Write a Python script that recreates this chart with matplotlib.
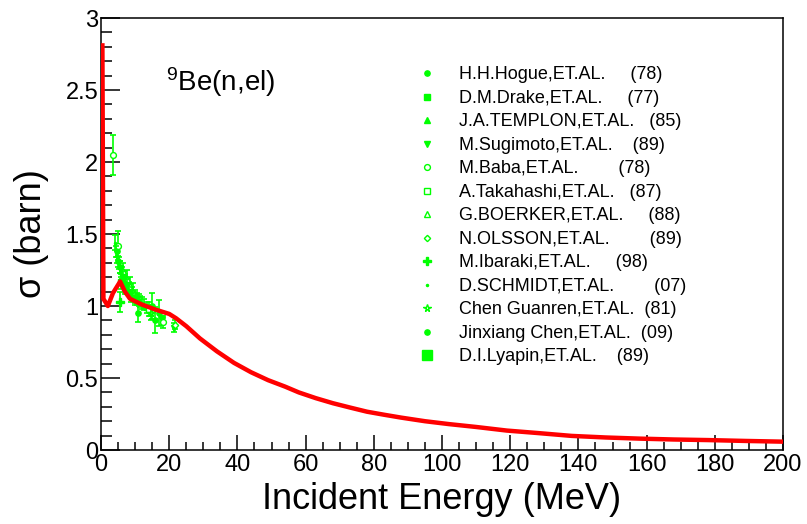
import matplotlib
matplotlib.use("Agg")
import matplotlib.pyplot as plt
from matplotlib.ticker import MultipleLocator

plt.rcParams['font.family'] = ['Liberation Sans', 'DejaVu Sans']
plt.rcParams['mathtext.default'] = 'regular'

# evaluated elastic cross section (red curve)
eval_e = [0.4, 0.7, 2.0, 3.5, 5.6, 7.0, 8.5, 12.0, 16.0, 20.0, 22.0, 25.0, 29.0, 34.0,
          39.0, 44.0, 49.0, 54.0, 58.0, 63.0, 68.0, 73.0, 78.0, 83.0, 88.0, 95.0, 102.0,
          110.0, 119.0, 128.0, 138.0, 148.0, 158.0, 168.0, 178.0, 189.0, 200.0]
eval_sig = [2.81, 1.05, 1.00, 1.09, 1.17, 1.10, 1.05, 1.01, 0.975, 0.945, 0.915, 0.86, 0.775, 0.685,
            0.605, 0.54, 0.485, 0.44, 0.40, 0.36, 0.325, 0.295, 0.266, 0.245, 0.225, 0.20, 0.18,
            0.16, 0.135, 0.118, 0.098, 0.087, 0.079, 0.073, 0.069, 0.063, 0.058]

# measurements
hogue_e = [4.6, 5.1, 5.6, 6.1, 6.6, 7.1, 7.6, 8.1, 8.6]
hogue_sig = [1.38, 1.31, 1.27, 1.23, 1.20, 1.18, 1.15, 1.13, 1.11]
hogue_err = [0.04, 0.04, 0.04, 0.04, 0.04, 0.04, 0.04, 0.04, 0.04]

drake_e = [5.9, 7.0, 8.9, 10.0]
drake_sig = [1.17, 1.13, 1.08, 1.06]
drake_err = [0.05, 0.05, 0.05, 0.05]

templon_e = [10.5, 11.5, 12.5, 13.5, 14.5]
templon_sig = [1.05, 1.03, 1.01, 0.99, 0.97]
templon_err = [0.04, 0.04, 0.04, 0.04, 0.04]

sugimoto_e = [18.0, 21.5]
sugimoto_sig = [0.90, 0.85]
sugimoto_err = [0.03, 0.03]

baba_e = [3.5, 5.0, 18.3]
baba_sig = [2.05, 1.42, 0.89]
baba_err = [0.14, 0.10, 0.04]

takahashi_e = [14.1]
takahashi_sig = [0.98]
takahashi_err = [0.05]

boerker_e = [6.5, 7.5, 8.5, 9.5]
boerker_sig = [1.24, 1.19, 1.14, 1.10]
boerker_err = [0.06, 0.06, 0.06, 0.06]

olsson_e = [21.6]
olsson_sig = [0.87]
olsson_err = [0.03]

ibaraki_e = [5.7]
ibaraki_sig = [1.03]
ibaraki_err = [0.07]

schmidt_e = [4.2, 4.5, 4.8, 5.2, 5.5, 6.0, 6.5, 7.0, 7.5, 8.0, 9.0, 10.0, 11.0, 12.0]
schmidt_sig = [1.44, 1.38, 1.34, 1.30, 1.27, 1.24, 1.20, 1.17, 1.15, 1.12, 1.09, 1.06, 1.04, 1.02]
schmidt_err = [0.05, 0.04, 0.04, 0.04, 0.04, 0.04, 0.04, 0.04, 0.04, 0.04, 0.04, 0.04, 0.04, 0.04]

guanren_e = [14.6]
guanren_sig = [0.95]
guanren_err = [0.05]

jchen_e = [10.9, 15.0, 15.7, 17.0]
jchen_sig = [0.95, 1.00, 0.90, 0.95]
jchen_err = [0.06, 0.09, 0.09, 0.09]

lyapin_e = []
lyapin_sig = []
lyapin_err = []

labels = ["H.H.Hogue,ET.AL.     (78)",
          "D.M.Drake,ET.AL.     (77)",
          "J.A.TEMPLON,ET.AL.   (85)",
          "M.Sugimoto,ET.AL.    (89)",
          "M.Baba,ET.AL.        (78)",
          "A.Takahashi,ET.AL.   (87)",
          "G.BOERKER,ET.AL.     (88)",
          "N.OLSSON,ET.AL.        (89)",
          "M.Ibaraki,ET.AL.     (98)",
          "D.SCHMIDT,ET.AL.        (07)",
          "Chen Guanren,ET.AL.  (81)",
          "Jinxiang Chen,ET.AL.  (09)",
          "D.I.Lyapin,ET.AL.    (89)"]

sets = [(hogue_e, hogue_sig, hogue_err),
        (drake_e, drake_sig, drake_err),
        (templon_e, templon_sig, templon_err),
        (sugimoto_e, sugimoto_sig, sugimoto_err),
        (baba_e, baba_sig, baba_err),
        (takahashi_e, takahashi_sig, takahashi_err),
        (boerker_e, boerker_sig, boerker_err),
        (olsson_e, olsson_sig, olsson_err),
        (ibaraki_e, ibaraki_sig, ibaraki_err),
        (schmidt_e, schmidt_sig, schmidt_err),
        (guanren_e, guanren_sig, guanren_err),
        (jchen_e, jchen_sig, jchen_err),
        (lyapin_e, lyapin_sig, lyapin_err)]

# marker, size, filled
styles = [('o', 3.8, True), ('s', 4.8, True), ('^', 4.0, True), ('v', 4.0, True),
          ('o', 4.2, False), ('s', 4.5, False), ('^', 4.5, False), ('D', 3.2, False),
          ('P', 5.5, True), ('.', 3.0, True), ('*', 5.5, False), ('o', 3.8, True),
          ('s', 7.5, True)]

green = '#00ff00'

fig = plt.figure(figsize=(8.07, 5.24), dpi=100)
ax = fig.add_axes([0.1252, 0.1412, 0.8451, 0.8244])

ax.plot(eval_e, eval_sig, color='red', lw=3.2, zorder=3)

handles = []
for (e, s, err), (mk, ms, filled), lab in zip(sets, styles, labels):
    if e:
        ax.errorbar(e, s, yerr=err, fmt='none', ecolor=green, elinewidth=1.2,
                    capsize=2.5, capthick=1.2, zorder=2)
    h, = ax.plot(e, s, linestyle='none', marker=mk, ms=ms, color=green,
                 mfc=green if filled else 'white', mec=green, mew=1.0, label=lab, zorder=2)
    handles.append(h)

ax.legend(handles=handles, loc='upper left', bbox_to_anchor=(0.468, 0.888),
          frameon=False, fontsize=13, handlelength=0.8, handletextpad=1.35,
          labelspacing=0.36, borderpad=0, borderaxespad=0)

ax.text(0.095, 0.831, '$^{9}$Be(n,el)', transform=ax.transAxes, fontsize=20,
        ha='left', va='baseline')

ax.set_xlim(0, 200)
ax.set_ylim(0, 3)
ax.xaxis.set_major_locator(MultipleLocator(20))
ax.xaxis.set_minor_locator(MultipleLocator(5))
ax.yaxis.set_major_locator(MultipleLocator(0.5))
ax.yaxis.set_minor_locator(MultipleLocator(0.1))
ax.yaxis.set_major_formatter(plt.FuncFormatter(lambda v, p: '%g' % v))

ax.tick_params(axis='x', which='major', direction='in', length=11, width=1.1,
               labelsize=17, pad=3)
ax.tick_params(axis='x', which='minor', direction='in', length=5.5, width=1.1)
ax.tick_params(axis='y', which='major', direction='in', length=14, width=1.1,
               labelsize=17, pad=2)
ax.tick_params(axis='y', which='minor', direction='in', length=8, width=1.1)
for sp in ax.spines.values():
    sp.set_linewidth(1.1)

ax.set_xlabel('Incident Energy (MeV)', fontsize=26, labelpad=4)
ax.set_ylabel('σ (barn)', fontsize=26, labelpad=12)

fig.savefig('out.png', dpi=100)
